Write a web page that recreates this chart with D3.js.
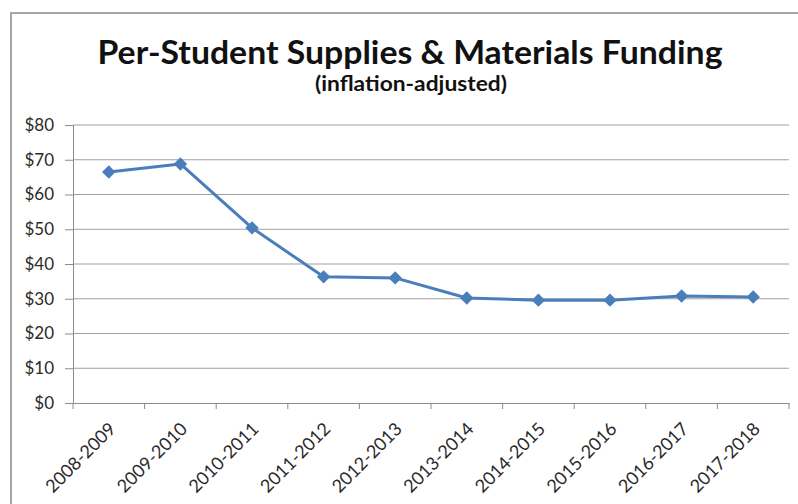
<!DOCTYPE html>
<html>
<head>
<meta charset="utf-8">
<script src="https://cdn.jsdelivr.net/npm/d3@7"></script>
<style>
  body { margin: 0; background: #fff; }
  svg { display: block; font-family: Lato, "Open Sans", sans-serif; }
</style>
</head>
<body>
<div id="chart"></div>
<script>
const years = ["2008-2009", "2009-2010", "2010-2011", "2011-2012", "2012-2013",
               "2013-2014", "2014-2015", "2015-2016", "2016-2017", "2017-2018"];
const funding = [66.5, 68.8, 50.4, 36.3, 36.0, 30.2, 29.6, 29.6, 30.8, 30.5];
const yTicks = [0, 10, 20, 30, 40, 50, 60, 70, 80];

const svgW = 798;
const svgH = 504;
const plotL = 73, plotR = 789, plotT = 125, plotB = 403;

const svg = d3.select("#chart")
  .append("svg")
  .attr("width", svgW)
  .attr("height", svgH);

// chart frame (cropped at right and bottom)
svg.append("path")
  .attr("d", `M11,${svgH} V13 H${svgW}`)
  .attr("fill", "none")
  .attr("stroke", "#a6a6a6")
  .attr("stroke-width", 2);

const xScale = d3.scaleBand()
  .domain(years)
  .range([plotL, plotR]);

const yScale = d3.scaleLinear()
  .domain([0, 80])
  .range([plotB, plotT]);

// gridlines
svg.append("g")
  .selectAll("line")
  .data(yTicks.filter(d => d > 0))
  .enter()
  .append("line")
  .attr("x1", plotL)
  .attr("x2", plotR)
  .attr("y1", d => yScale(d))
  .attr("y2", d => yScale(d))
  .attr("stroke", "#a0a0a0")
  .attr("stroke-width", 1);

const yAxis = svg.append("g")
  .attr("transform", `translate(${plotL},0)`)
  .call(d3.axisLeft(yScale).tickValues(yTicks).tickSize(8).tickPadding(11).tickFormat(d => "$" + d));

const xAxis = svg.append("g")
  .attr("transform", `translate(0,${plotB})`)
  .call(d3.axisBottom(xScale).tickSize(0).tickPadding(0));

[yAxis, xAxis].forEach(a => {
  a.select(".domain").attr("stroke", "#8c8c8c");
  a.selectAll(".tick line").attr("stroke", "#8c8c8c");
  a.selectAll("text").attr("fill", "#2a2a2a").style("font-size", "17px").style("font-family", "Lato, sans-serif");
});

// x ticks between categories
svg.append("g")
  .selectAll("line")
  .data(years.concat(["end"]))
  .enter()
  .append("line")
  .attr("x1", (d, i) => plotL + i * xScale.step())
  .attr("x2", (d, i) => plotL + i * xScale.step())
  .attr("y1", plotB)
  .attr("y2", plotB + 6)
  .attr("stroke", "#8c8c8c");

xAxis.selectAll(".tick text")
  .attr("text-anchor", "end")
  .attr("dy", "0")
  .style("font-size", "18px")
  .attr("transform", "translate(8,27) rotate(-45)");

const line = d3.line()
  .x((d, i) => xScale(years[i]) + xScale.bandwidth() / 2)
  .y(d => yScale(d));

svg.append("path")
  .datum(funding)
  .attr("d", line)
  .attr("fill", "none")
  .attr("stroke", "#4a7ebb")
  .attr("stroke-width", 3)
  .attr("stroke-linejoin", "round");

svg.append("g")
  .selectAll("path")
  .data(funding)
  .enter()
  .append("path")
  .attr("d", d3.symbol().type(d3.symbolDiamond2).size(115))
  .attr("transform", (d, i) => `translate(${xScale(years[i]) + xScale.bandwidth() / 2},${yScale(d)})`)
  .attr("fill", "#4a7ebb");

svg.append("text")
  .text("Per-Student Supplies & Materials Funding")
  .attr("x", 410)
  .attr("y", 64)
  .attr("text-anchor", "middle")
  .attr("textLength", 625)
  .attr("lengthAdjust", "spacingAndGlyphs")
  .style("font-size", "32px")
  .style("font-weight", "bold")
  .attr("fill", "#111");

svg.append("text")
  .text("(inflation-adjusted)")
  .attr("x", 411)
  .attr("y", 91)
  .attr("text-anchor", "middle")
  .attr("textLength", 192)
  .attr("lengthAdjust", "spacingAndGlyphs")
  .style("font-size", "20px")
  .style("font-weight", "bold")
  .attr("fill", "#111");
</script>
</body>
</html>
